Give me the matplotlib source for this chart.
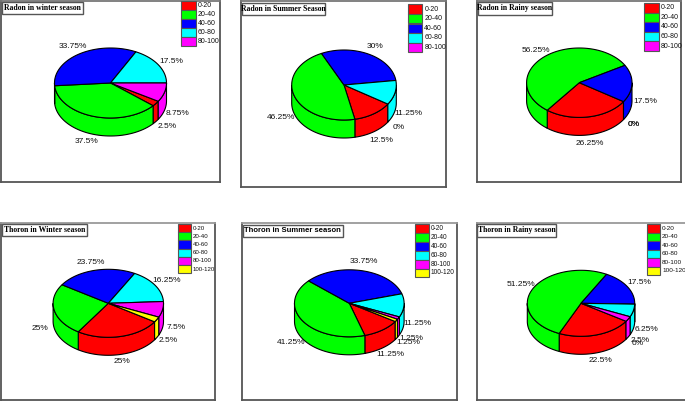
import numpy as np
import matplotlib
matplotlib.use("Agg")
import matplotlib.pyplot as plt
from matplotlib.patches import Polygon, Rectangle

# colours are shared, the order is always the range order
colors = ["#ff0000", "#00ff00", "#0000ff", "#00ffff", "#ff00ff", "#ffff00"]
ranges = ["0-20", "20-40", "40-60", "60-80", "80-100", "100-120"]

titles = ["Radon in winter season", "Radon in Summer Season", "Radon in Rainy season",
          "Thoron in Winter season", "Thoron in Summer season", "Thoron in Rainy season"]

radon_winter = [2.5, 37.5, 33.75, 17.5, 8.75]
radon_summer = [12.5, 46.25, 30, 11.25, 0]
radon_rainy = [26.25, 56.25, 17.5, 0, 0]
thoron_winter = [25, 25, 23.75, 16.25, 7.5, 2.5]
thoron_summer = [11.25, 41.25, 33.75, 11.25, 1.25, 1.25]
thoron_rainy = [22.5, 51.25, 17.5, 6.25, 2.5, 0]
values = [radon_winter, radon_summer, radon_rainy, thoron_winter, thoron_summer, thoron_rainy]

W, H = 685, 401
DEPTH = 18

# layout, all in pixels of the picture
frames = [(1, 220, 1, 182), (241, 446, 1, 187), (476.7, 681, 1, 182),
          (0.5, 215, 222.7, 400.3), (241.7, 457, 222.7, 400.3), (476.7, 686, 222.7, 400.3)]
pies = [(110.5, 83, 56, 35, -31.5), (344, 85, 52.3, 35, -33), (579.3, 82.7, 52.7, 34.7, -33),
        (108.3, 303.3, 55.2, 34, -33), (349.3, 303.3, 54.8, 33.5, -33), (581, 303.3, 53.7, 33, -33)]
title_boxes = [(2, 83.3, 2.3, 14.3), (241.7, 325, 3.3, 15), (477.7, 552.3, 2.3, 14.7),
               (1.7, 86.7, 224, 236.3), (242.7, 342.7, 225, 236.7), (477.3, 556.3, 224, 236.7)]
legends = [(181.3, 195.7, 1, 9.07, 5.0), (408, 422.3, 4.3, 9.6, 5.0), (644, 658.7, 3, 9.6, 5.0),
           (177.7, 191, 224, 8.2, 4.4), (414.7, 429, 224, 8.9, 4.7), (646.7, 660, 224, 8.5, 4.6)]
label_pos = [
    [(166.7, 127), (86.7, 141.7), (72.7, 46.7), (171.7, 61.7), (178, 113.7)],
    [(381, 140), (281, 117.7), (375, 47), (408.3, 113.3), (399, 127.7)],
    [(590, 143.3), (535.7, 50.7), (645, 101.7), (634, 124), (634, 124)],
    [(122.3, 361.7), (40, 329), (90.7, 262), (166.3, 280.7), (175.7, 327.7), (168.3, 340.7)],
    [(390.3, 354.3), (290.7, 342.7), (364, 261.7), (417.7, 323.3), (411, 339), (408.3, 342)],
    [(600, 361), (520.7, 284.7), (639, 282), (646.3, 329.3), (640, 340.7), (637.3, 343.7)],
]

fig = plt.figure(figsize=(W / 100, H / 100), dpi=100, facecolor="white")


def ell(cx, cy, rx, ry, ang):
    a = np.radians(ang)
    return cx + rx * np.cos(a), cy - ry * np.sin(a)


for i in range(6):
    x0, x1, y0, y1 = frames[i]
    ax = fig.add_axes([x0 / W, 1 - y1 / H, (x1 - x0) / W, (y1 - y0) / H])
    ax.set_xlim(x0, x1)
    ax.set_ylim(y1, y0)
    ax.set_xticks([])
    ax.set_yticks([])
    for s in ax.spines.values():
        s.set_color("#555555")
        s.set_linewidth(1.3)
    ax.spines["top"].set_color("#9a9a9a" if i >= 3 else "#777777")

    cx, cy, rx, ry, start = pies[i]
    vals = values[i]

    # wedges run clockwise from the start angle
    ang = start
    spans = []
    for v in vals:
        spans.append((ang, ang - v * 3.6))
        ang -= v * 3.6

    # side wall first, only the front half shows
    for k, (a0, a1) in enumerate(spans):
        for shift in (0, 360):
            lo = max(a1 + shift, -180)
            hi = min(a0 + shift, 0)
            if hi <= lo:
                continue
            t = np.linspace(hi, lo, 60)
            xs, ys = ell(cx, cy, rx, ry, t)
            pts = np.r_[np.c_[xs, ys], np.c_[xs[::-1], ys[::-1] + DEPTH]]
            ax.add_patch(Polygon(pts, closed=True, fc=colors[k], ec="black", lw=0.8, zorder=2))

    # top of the pie
    for k, (a0, a1) in enumerate(spans):
        if a0 == a1:
            continue
        t = np.linspace(a0, a1, 120)
        xs, ys = ell(cx, cy, rx, ry, t)
        pts = np.r_[[[cx, cy]], np.c_[xs, ys]]
        ax.add_patch(Polygon(pts, closed=True, fc=colors[k], ec="black", lw=0.8, zorder=3))

    # percent labels
    for v, (lx, ly) in zip(vals, label_pos[i]):
        ax.text(lx, ly, f"{v:g}%", ha="center", va="center", fontsize=6.0,
                family="Liberation Sans", color="#111111", zorder=5)

    # legend
    lx0, lx1, ly0, lh, fs = legends[i]
    for k in range(len(vals)):
        ax.add_patch(Rectangle((lx0, ly0 + k * lh), lx1 - lx0, lh, fc=colors[k], ec="#555555",
                               lw=0.8, zorder=4))
        ax.text(lx1 + 2, ly0 + (k + 0.5) * lh, ranges[k], ha="left", va="center", fontsize=fs,
                family="Liberation Sans", color="#111111", zorder=5)

    # title box
    bx0, bx1, by0, by1 = title_boxes[i]
    ax.add_patch(Rectangle((bx0, by0), bx1 - bx0, by1 - by0, fc="white", ec="#555555", lw=1.0, zorder=4))
    if i == 4:
        ax.text((bx0 + bx1) / 2, (by0 + by1) / 2, titles[i], ha="center", va="center", fontsize=5.5,
                family="Liberation Sans", fontweight="bold", zorder=5)
    else:
        ax.text((bx0 + bx1) / 2, (by0 + by1) / 2, titles[i], ha="center", va="center", fontsize=5.6,
                family="Liberation Serif", fontweight="bold", zorder=5)

fig.savefig("out.png", dpi=100)
